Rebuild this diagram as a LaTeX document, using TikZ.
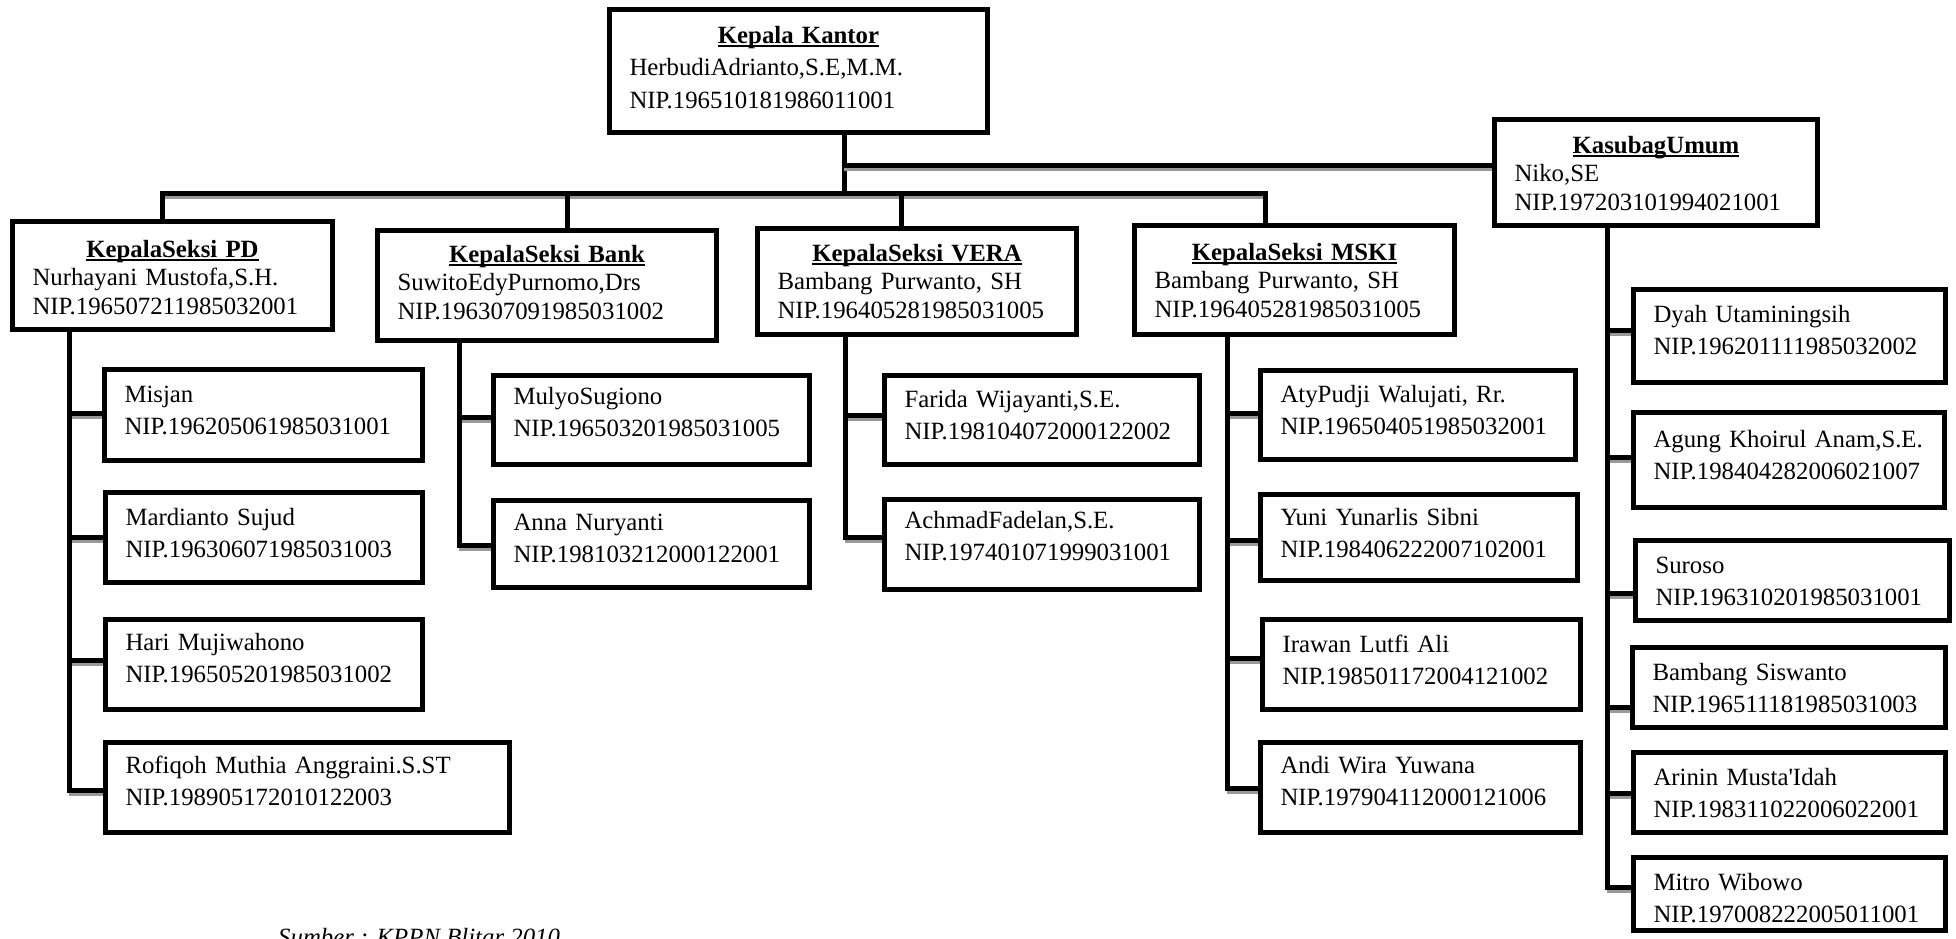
\documentclass[tikz,border=0pt]{standalone}
\usepackage{fontspec}
\setmainfont{Liberation Serif}
\usetikzlibrary{calc}
\pgfdeclarelayer{bg}
\pgfsetlayers{bg,main}
\newcommand\ulx[1]{\setbox0\hbox{#1}\rlap{\rule[-4pt]{\wd0}{1.8pt}}\box0}
\newcommand\ttl[1]{\makebox[\linewidth]{\bfseries\ulx{#1}}}
% style, name, L, T, R, B, first baseline, content
\newcommand\orgbox[8]{%
  \pgfmathsetmacro\obw{#5-#3-45}%
  \pgfmathsetmacro\obh{#7-#4-2.5}%
  \pgfmathsetmacro\obd{#6-#7-2.5}%
  \node[#1, text width=\obw pt, text height=\obh pt, text depth=\obd pt] (#2) at (#3+2.5,#4+2.5) {#8};}
\newcommand\branch[3]{%
  \coordinate (#2-b) at ($(#2.west)+(0,#3)$);
  \draw[conn] (#1 |- #2-b) -- (#2-b);}
\tikzset{
  orgnode/.style={draw=black, line width=5pt, fill=white, anchor=north west,
    inner xsep=20pt, inner ysep=0pt, outer sep=0pt, align=left},
  headbox/.style={orgnode, font=\fontsize{24.8}{28.5}\selectfont},
  topbox/.style={orgnode, font=\fontsize{24.8}{32.5}\selectfont},
  staffbox/.style={orgnode, font=\fontsize{24.8}{32.5}\selectfont},
  conn/.style={line width=5pt, line cap=rect, draw=black,
    preaction={draw=black!40, line width=5pt, line cap=butt, transform canvas={yshift=-3pt}}},
  srcnote/.style={font=\fontsize{24.8}{30}\selectfont\itshape, anchor=base west, inner sep=0pt},
}
\begin{document}
\begin{tikzpicture}[x=1pt, y=-1pt]
\useasboundingbox (0,0) rectangle (1956,938);

% heads
\orgbox{topbox}{kk}{607}{7}{990}{135}{43}{\ttl{Kepala Kantor}\\HerbudiAdrianto,S.E,M.M.\\NIP.196510181986011001}
\orgbox{headbox}{kasubag}{1492}{117}{1820}{228}{153}{\ttl{KasubagUmum}\\Niko,SE\\NIP.197203101994021001}
\orgbox{headbox}{pd}{10}{219}{335}{332}{257}{\ttl{KepalaSeksi PD}\\Nurhayani Mustofa,S.H.\\NIP.196507211985032001}
\orgbox{headbox}{bank}{375}{228}{719}{343}{262}{\ttl{KepalaSeksi Bank}\\SuwitoEdyPurnomo,Drs\\NIP.196307091985031002}
\orgbox{headbox}{vera}{755}{226}{1079}{337}{261}{\ttl{KepalaSeksi VERA}\\Bambang Purwanto, SH\\NIP.196405281985031005}
\orgbox{headbox}{mski}{1132}{223}{1457}{337}{260}{\ttl{KepalaSeksi MSKI}\\Bambang Purwanto, SH\\NIP.196405281985031005}

% staff PD
\orgbox{staffbox}{misjan}{102}{367}{425}{463}{402}{Misjan\\NIP.196205061985031001}
\orgbox{staffbox}{mardianto}{103}{490}{425}{585}{525}{Mardianto Sujud\\NIP.196306071985031003}
\orgbox{staffbox}{hari}{103}{617}{425}{712}{650}{Hari Mujiwahono\\NIP.196505201985031002}
\orgbox{staffbox}{rofiqoh}{103}{740}{512}{835}{773}{Rofiqoh Muthia Anggraini.S.ST\\NIP.198905172010122003}
% staff Bank
\orgbox{staffbox}{mulyo}{491}{373}{812}{467}{404}{MulyoSugiono\\NIP.196503201985031005}
\orgbox{staffbox}{anna}{491}{498}{812}{590}{530}{Anna Nuryanti\\NIP.198103212000122001}
% staff VERA
\orgbox{staffbox}{farida}{882}{373}{1202}{467}{407}{Farida Wijayanti,S.E.\\NIP.198104072000122002}
\orgbox{staffbox}{achmad}{882}{497}{1202}{592}{528}{AchmadFadelan,S.E.\\NIP.197401071999031001}
% staff MSKI
\orgbox{staffbox}{aty}{1258}{368}{1578}{462}{402}{AtyPudji Walujati, Rr.\\NIP.196504051985032001}
\orgbox{staffbox}{yuni}{1258}{492}{1580}{583}{525}{Yuni Yunarlis Sibni\\NIP.198406222007102001}
\orgbox{staffbox}{irawan}{1260}{617}{1583}{712}{652}{Irawan Lutfi Ali\\NIP.198501172004121002}
\orgbox{staffbox}{andi}{1258}{740}{1583}{835}{773}{Andi Wira Yuwana\\NIP.197904112000121006}
% staff Umum
\orgbox{staffbox}{dyah}{1631}{287}{1948}{385}{322}{Dyah Utaminingsih\\NIP.196201111985032002}
\orgbox{staffbox}{agung}{1631}{410}{1947}{510}{447}{Agung Khoirul Anam,S.E.\\NIP.198404282006021007}
\orgbox{staffbox}{suroso}{1633}{538}{1952}{623}{573}{Suroso\\NIP.196310201985031001}
\orgbox{staffbox}{bambang}{1630}{645}{1948}{730}{680}{Bambang Siswanto\\NIP.196511181985031003}
\orgbox{staffbox}{arinin}{1631}{750}{1948}{835}{785}{Arinin Musta\textquotesingle Idah\\NIP.198311022006022001}
\orgbox{staffbox}{mitro}{1631}{855}{1948}{933}{890}{Mitro Wibowo\\NIP.197008222005011001}

\node[srcnote] (src) at (278,945) {Sumber : KPPN Blitar 2010};

\begin{pgfonlayer}{bg}
\fill[white] (0,0) rectangle (1956,938);
\coordinate (jK) at (844,193);
\coordinate (jS) at (844,165);
\coordinate (dPD) at (162,193);
\coordinate (dBank) at (567,193);
\coordinate (dVera) at (901,193);
\coordinate (dMski) at (1265,193);
\coordinate (vPD) at (69,0);
\coordinate (vBank) at (459,0);
\coordinate (vVera) at (845,0);
\coordinate (vMski) at (1227,0);
\coordinate (vUm) at (1607,0);

\draw[conn] (kk.south -| jK) -- (jK);
\draw[conn] (jS) -- (kasubag.west |- jS);
\draw[conn] (pd.north -| dPD) -- (dPD) -- (dMski) -- (mski.north -| dMski);
\draw[conn] (dBank) -- (bank.north -| dBank);
\draw[conn] (dVera) -- (vera.north -| dVera);

\branch{vPD}{misjan}{-2}
\branch{vPD}{mardianto}{0}
\branch{vPD}{hari}{-4.5}
\branch{vPD}{rofiqoh}{2.5}
\branch{vBank}{mulyo}{-3}
\branch{vBank}{anna}{1}
\branch{vVera}{farida}{-5}
\branch{vVera}{achmad}{-7.5}
\branch{vMski}{aty}{-2}
\branch{vMski}{yuni}{2.5}
\branch{vMski}{irawan}{-6.5}
\branch{vMski}{andi}{0.5}
\branch{vUm}{dyah}{-6}
\branch{vUm}{agung}{-3}
\branch{vUm}{suroso}{12.5}
\branch{vUm}{bambang}{19.5}
\branch{vUm}{arinin}{0.5}
\branch{vUm}{mitro}{-7}

\draw[conn] (pd.south -| vPD) -- (vPD |- rofiqoh-b);
\draw[conn] (bank.south -| vBank) -- (vBank |- anna-b);
\draw[conn] (vera.south -| vVera) -- (vVera |- achmad-b);
\draw[conn] (mski.south -| vMski) -- (vMski |- andi-b);
\draw[conn] (kasubag.south -| vUm) -- (vUm |- mitro-b);
\end{pgfonlayer}
\end{tikzpicture}
\end{document}
